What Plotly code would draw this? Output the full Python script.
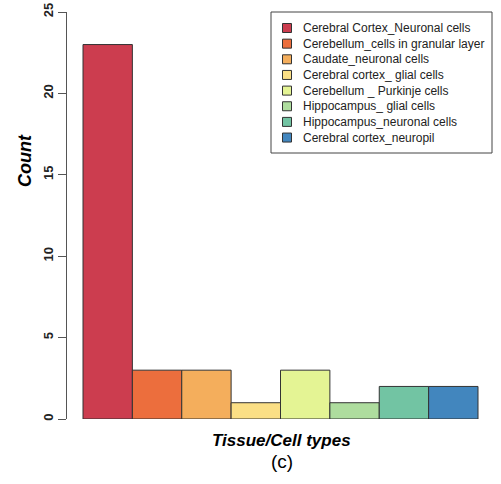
import plotly.graph_objects as go

categories = [
    "Cerebral Cortex_Neuronal cells",
    "Cerebellum_cells in granular layer",
    "Caudate_neuronal cells",
    "Cerebral cortex_ glial cells",
    "Cerebellum _ Purkinje cells",
    "Hippocampus_ glial cells",
    "Hippocampus_neuronal cells",
    "Cerebral cortex_neuropil",
]
counts = [23, 3, 3, 1, 3, 1, 2, 2]
colors = ["#CC3D4F", "#EC6E3D", "#F4AE5C", "#FBDF85", "#E4F494", "#AEDD9E", "#72C4A3", "#4286BE"]
y_ticks = [0, 5, 10, 15, 20, 25]

W, H = 501, 484
L, R, T, B = 67, 7, 12, 65
PW, PH = W - L - R, H - T - B


def fx(p):  # page pixel x -> paper
    return (p - L) / PW


def fy(p):  # page pixel y -> paper
    return (H - B - p) / PH


fig = go.Figure()
for cat, val, col in zip(categories, counts, colors):
    fig.add_trace(go.Bar(
        x=[cat], y=[val], name=cat, width=1, showlegend=False,
        marker=dict(color=col, line=dict(color="#333333", width=1)),
    ))

fig.update_layout(
    width=W, height=H,
    margin=dict(l=L, r=R, t=T, b=B, pad=0),
    paper_bgcolor="white", plot_bgcolor="white",
    barmode="overlay",
    font=dict(family="Liberation Sans, Arial", color="black"),
    xaxis=dict(
        range=[-0.824, 7.824], showticklabels=False, ticks="",
        showline=False, showgrid=False, zeroline=False, automargin=False,
    ),
    yaxis=dict(
        range=[0, 25], tickvals=y_ticks, ticks="outside", ticklen=8,
        tickcolor="#555555", showline=True, linecolor="#555555", linewidth=1,
        showgrid=False, zeroline=False, tickangle=-90, automargin=False,
        ticklabeloverflow="allow",
        tickfont=dict(size=13, color="#222222", weight="bold"),
    ),
)

# axis titles and caption
fig.add_annotation(
    text="<b><i>Count</i></b>", textangle=-90, font=dict(size=18),
    xref="paper", yref="paper", x=fx(25), y=fy(161),
    xanchor="center", yanchor="middle", showarrow=False,
)
fig.add_annotation(
    text="<b><i>Tissue/Cell types</i></b>", font=dict(size=17),
    xref="paper", yref="paper", x=fx(281), y=fy(440),
    xanchor="center", yanchor="middle", showarrow=False,
)
fig.add_annotation(
    text="(c)", font=dict(size=19),
    xref="paper", yref="paper", x=fx(282), y=fy(461),
    xanchor="center", yanchor="middle", showarrow=False,
)

# legend box (drawn like R's legend())
fig.add_shape(type="rect", xref="paper", yref="paper",
              x0=fx(271), x1=fx(492), y0=fy(12), y1=fy(153),
              line=dict(color="#444444", width=1), fillcolor="white", layer="above")
row0, step = 28, 15.65
for i, (cat, col) in enumerate(zip(categories, colors)):
    cy = row0 + i * step
    fig.add_shape(type="rect", xref="paper", yref="paper",
                  x0=fx(282.5), x1=fx(291.5), y0=fy(cy - 4.5), y1=fy(cy + 4.5),
                  line=dict(color="#333333", width=1), fillcolor=col, layer="above")
    fig.add_annotation(
        text=cat, font=dict(size=12, color="#222222"),
        xref="paper", yref="paper", x=fx(301), y=fy(cy),
        xanchor="left", yanchor="middle", showarrow=False,
    )

fig.write_html(
    "out.html",
    config={"displayModeBar": False},
    post_script="document.body.style.margin='0';document.body.style.overflow='hidden';",
)
